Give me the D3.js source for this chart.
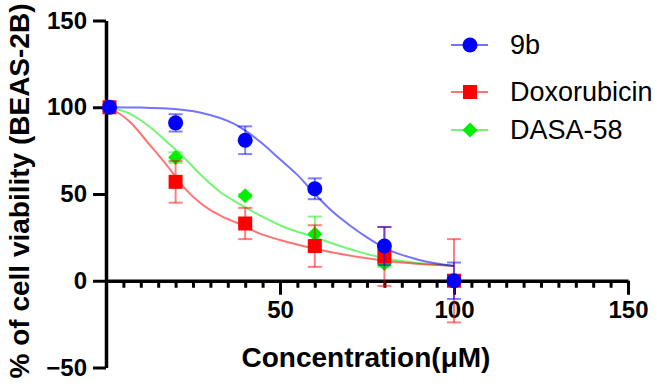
<!DOCTYPE html>
<html>
<head>
<meta charset="utf-8">
<script src="https://d3js.org/d3.v7.min.js"></script>
<style>
  body { margin: 0; background: #fff; }
  text { font-family: Arial, "Liberation Sans", sans-serif; }
</style>
</head>
<body>
<div id="chart"></div>
<script>
// concentrations (uM)
var conc = [1, 20, 40, 60, 80, 100];
// mean viability and error (SD) for each compound
var b9 = [100, 91, 81, 53, 20, 0];
var b9Err = [0, 5, 8, 6, 11, 10.5];
var dox = [100, 57, 33, 20, 14, 0];
var doxErr = [0, 12, 9, 12, 17, 24];
var dasa = [100, 71, 49, 27, 10, 0];
var dasaErr = [0, 3, 1, 10, 2, 1];
// fitted curves
var b9FitX = [1, 10, 17.5, 27, 36.7, 44.4, 50, 55, 60, 65, 70, 75, 80, 90, 100];
var b9FitY = [100, 99.8, 99.3, 97, 90.5, 80, 70, 61, 50, 40, 32, 25, 19, 12, 8.5];
var doxFitX = [1, 6.9, 12.7, 17.5, 22.3, 27, 32.9, 38.6, 44.4, 50, 60, 73, 80, 100];
var doxFitY = [100, 91.5, 78, 66.5, 54, 45, 37.5, 32.5, 27, 23.5, 18.5, 13.5, 11.5, 8.5];
var dasaFitX = [1, 6.9, 12.7, 17.5, 22.3, 27, 32.9, 38.6, 44.4, 50, 60, 73, 80, 100];
var dasaFitY = [100, 96.2, 88.5, 80, 71.2, 61.5, 51, 44, 37.5, 32, 25, 16.5, 13, 8.7];
// axes
var xTicks = [50, 100, 150];
var yTicks = [-50, 0, 50, 100, 150];

var W = 657, H = 386;
var svg = d3.select('#chart').append('svg')
  .attr('width', W).attr('height', H);

var x = d3.scaleLinear().domain([0, 150]).range([106, 628]);
var y = d3.scaleLinear().domain([-50, 150]).range([367.5, 20.5]);

var series = [
  {name: 'DASA-58', color: '#00ee00', shape: 'diamond', v: dasa, e: dasaErr, fx: dasaFitX, fy: dasaFitY},
  {name: 'Doxorubicin', color: '#ff0000', shape: 'square', v: dox, e: doxErr, fx: doxFitX, fy: doxFitY},
  {name: '9b', color: '#0000ff', shape: 'circle', v: b9, e: b9Err, fx: b9FitX, fy: b9FitY}
];

function marker(g, shape, color) {
  if (shape === 'circle') {
    g.append('circle').attr('r', 7.5).attr('fill', color);
  } else if (shape === 'square') {
    g.append('rect').attr('x', -7).attr('y', -7).attr('width', 14).attr('height', 14).attr('fill', color);
  } else {
    g.append('path').attr('d', 'M0,-7.5L7.5,0L0,7.5L-7.5,0Z').attr('fill', color);
  }
}

var line = d3.line().x(d => x(d[0])).y(d => y(d[1])).curve(d3.curveMonotoneX);

// axes first
svg.append('g')
  .attr('transform', 'translate(' + x(0) + ',0)')
  .call(d3.axisLeft(y).tickValues(yTicks).tickSize(13).tickSizeOuter(0).tickPadding(6));
var minor = d3.range(5, 150, 5).filter(v => v % 50 !== 0);
var xMinor = svg.append('g')
  .attr('transform', 'translate(0,' + y(0) + ')')
  .call(d3.axisBottom(x).tickValues(minor).tickSize(7).tickFormat(''));
xMinor.select('.domain').remove();
svg.append('g')
  .attr('transform', 'translate(0,' + y(0) + ')')
  .call(d3.axisBottom(x).tickValues(xTicks).tickSize(14).tickSizeOuter(0).tickPadding(6));

svg.selectAll('.domain').attr('stroke', '#000').attr('stroke-width', 3.5);
svg.selectAll('.tick line').attr('stroke', '#000').attr('stroke-width', 3);
svg.selectAll('.tick text')
  .attr('fill', '#000')
  .style('font-size', '24px')
  .style('font-weight', 'bold');

// curves, error bars, points
series.forEach(function(s) {
  var pts = s.fx.map((v, i) => [v, s.fy[i]]);
  svg.append('path').datum(pts)
    .attr('d', line)
    .attr('fill', 'none')
    .attr('stroke', s.color)
    .attr('stroke-opacity', 0.55)
    .attr('stroke-width', 2);
});

series.forEach(function(s) {
  var g = svg.append('g');
  conc.forEach(function(c, i) {
    if (s.e[i] > 0) {
      var eb = g.append('g').attr('stroke', s.color).attr('stroke-opacity', 0.5).attr('stroke-width', 2);
      eb.append('line').attr('x1', x(c)).attr('x2', x(c)).attr('y1', y(s.v[i] + s.e[i])).attr('y2', y(s.v[i] - s.e[i]));
      eb.append('line').attr('x1', x(c) - 7).attr('x2', x(c) + 7).attr('y1', y(s.v[i] + s.e[i])).attr('y2', y(s.v[i] + s.e[i]));
      eb.append('line').attr('x1', x(c) - 7).attr('x2', x(c) + 7).attr('y1', y(s.v[i] - s.e[i])).attr('y2', y(s.v[i] - s.e[i]));
    }
    var m = g.append('g').attr('transform', 'translate(' + x(c) + ',' + y(s.v[i]) + ')');
    marker(m, s.shape, s.color);
  });
});

// axis titles
svg.append('text')
  .attr('x', 366).attr('y', 367)
  .attr('text-anchor', 'middle')
  .style('font-size', '28px').style('font-weight', 'bold')
  .text('Concentration(\u03bcM)');
svg.append('text')
  .attr('transform', 'translate(29,191) rotate(-90)')
  .attr('text-anchor', 'middle')
  .style('font-size', '28px').style('font-weight', 'bold')
  .text('% of cell viability (BEAS-2B)');

// legend
var legendRows = [
  {s: series[2], y: 45},
  {s: series[1], y: 92},
  {s: series[0], y: 130}
];
legendRows.forEach(function(r) {
  var g = svg.append('g').attr('transform', 'translate(470,' + r.y + ')');
  g.append('line').attr('x1', -19).attr('x2', 18).attr('stroke', r.s.color)
    .attr('stroke-opacity', 0.55).attr('stroke-width', 2);
  marker(g, r.s.shape, r.s.color);
  g.append('text').attr('x', 40).attr('dy', '0.35em')
    .style('font-size', '27px').text(r.s.name);
});
</script>
</body>
</html>
